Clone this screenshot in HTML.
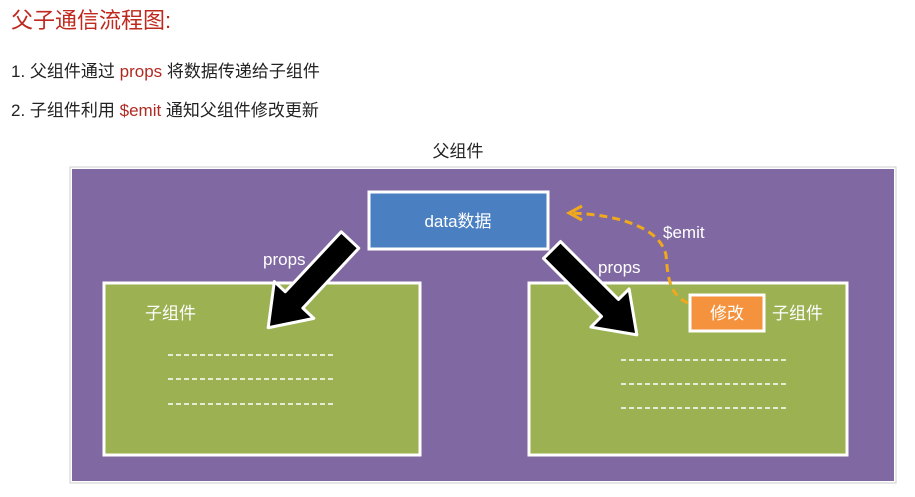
<!DOCTYPE html>
<html><head><meta charset="utf-8"><style>
html,body{margin:0;padding:0;background:#fff;width:915px;height:497px;overflow:hidden}
</style></head><body>
<svg width="915" height="497" viewBox="0 0 915 497" xmlns="http://www.w3.org/2000/svg" style="font-family:'Liberation Sans','Noto Sans CJK SC',sans-serif">
<text x="11" y="28" font-size="22" fill="#c0281e">父子通信流程图:</text>
<text x="11" y="77" font-size="17" fill="#222">1. 父组件通过 <tspan fill="#b02a22">props</tspan> 将数据传递给子组件</text>
<text x="11" y="116" font-size="17" fill="#222">2. 子组件利用 <tspan fill="#b02a22">$emit</tspan> 通知父组件修改更新</text>
<text x="458" y="157" font-size="17" fill="#222" text-anchor="middle">父组件</text>
<rect x="70" y="167" width="826" height="316" fill="#fff" stroke="#ccc" stroke-width="1"/>
<rect x="72" y="169" width="822" height="312" fill="#8068a2"/>
<rect x="104" y="283" width="316" height="172" fill="#9bb152" stroke="#fff" stroke-width="3"/>
<rect x="529" y="283" width="318" height="172" fill="#9bb152" stroke="#fff" stroke-width="3"/>
<rect x="369" y="192" width="179" height="57" fill="#4a7fc1" stroke="#fff" stroke-width="3"/>
<text x="458" y="227" font-size="17" fill="#fff" text-anchor="middle">data数据</text>
<text x="263" y="265" font-size="17" fill="#fff">props</text>
<text x="598" y="273" font-size="17" fill="#fff">props</text>
<text x="663" y="238" font-size="17" fill="#fff">$emit</text>
<text x="145" y="319" font-size="17" fill="#fff">子组件</text>
<text x="772" y="319" font-size="17" fill="#fff">子组件</text>
<rect x="690" y="295" width="74" height="36" fill="#f5923e" stroke="#fff" stroke-width="3"/>
<text x="727" y="319" font-size="17" fill="#fff" text-anchor="middle">修改</text>
<g stroke="#fff" stroke-width="1.5" stroke-dasharray="5,3">
<line x1="168" y1="355" x2="336" y2="355"/><line x1="168" y1="379" x2="336" y2="379"/><line x1="168" y1="404" x2="336" y2="404"/>
<line x1="621" y1="360" x2="789" y2="360"/><line x1="621" y1="384" x2="789" y2="384"/><line x1="621" y1="408" x2="789" y2="408"/>
</g>
<g transform="translate(350,240) rotate(133)">
<polygon points="0,-12 82,-12 82,-27 120,0 82,27 82,12 0,12" fill="#000" stroke="#fff" stroke-width="3" stroke-linejoin="round"/>
</g>
<g transform="translate(552,250) rotate(45)">
<polygon points="0,-12 82,-12 82,-27 120,0 82,27 82,12 0,12" fill="#000" stroke="#fff" stroke-width="3" stroke-linejoin="round"/>
</g>
<path d="M688,303 C670,295 668,280 666,255 C660,228 620,215 572,213" fill="none" stroke="#f0a81c" stroke-width="3" stroke-dasharray="8,5"/>
<polyline points="582,206 569,213 582,220" fill="none" stroke="#f0a81c" stroke-width="3"/>
</svg>
</body></html>
